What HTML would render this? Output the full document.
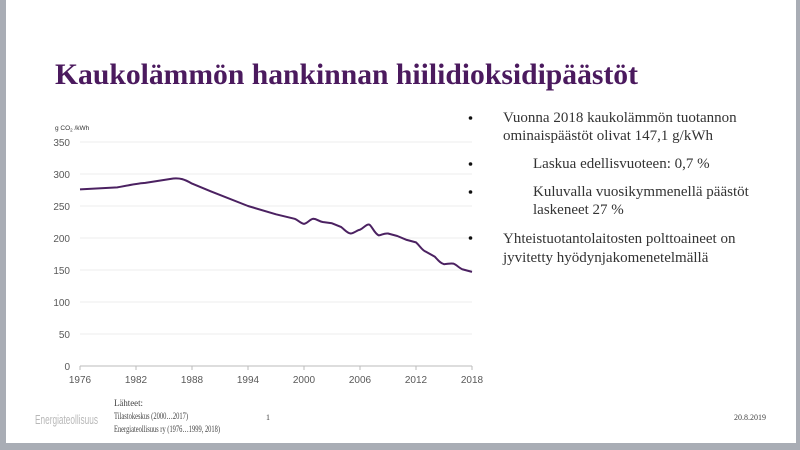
<!DOCTYPE html>
<html><head><meta charset="utf-8"><style>
html,body{margin:0;padding:0;width:800px;height:450px;overflow:hidden;background:#a9adb5}
svg{display:block}
</style></head><body>
<svg width="800" height="450" xmlns="http://www.w3.org/2000/svg">
<rect x="6" y="0" width="790" height="443" fill="#fff"/>
<text x="55" y="84" font-family="Liberation Serif, serif" font-weight="bold" font-size="30" fill="#4b1a5e" textLength="583" lengthAdjust="spacingAndGlyphs">Kaukolämmön hankinnan hiilidioksidipäästöt</text>
<g stroke="#eeeeee" stroke-width="1">
<line x1="80" y1="142" x2="472" y2="142"/>
<line x1="80" y1="174" x2="472" y2="174"/>
<line x1="80" y1="206" x2="472" y2="206"/>
<line x1="80" y1="238" x2="472" y2="238"/>
<line x1="80" y1="270" x2="472" y2="270"/>
<line x1="80" y1="302" x2="472" y2="302"/>
<line x1="80" y1="334" x2="472" y2="334"/>
</g>
<line x1="80" y1="366" x2="472" y2="366" stroke="#bbb"/>
<g stroke="#bbb"><line x1="80" y1="366" x2="80" y2="370"/><line x1="136" y1="366" x2="136" y2="370"/><line x1="192" y1="366" x2="192" y2="370"/><line x1="248" y1="366" x2="248" y2="370"/><line x1="304" y1="366" x2="304" y2="370"/><line x1="360" y1="366" x2="360" y2="370"/><line x1="416" y1="366" x2="416" y2="370"/><line x1="472" y1="366" x2="472" y2="370"/></g>
<g font-family="Liberation Sans, sans-serif" font-size="10" fill="#595959" text-anchor="end">
<text x="70" y="146">350</text><text x="70" y="178">300</text><text x="70" y="210">250</text><text x="70" y="242">200</text><text x="70" y="274">150</text><text x="70" y="306">100</text><text x="70" y="338">50</text><text x="70" y="370">0</text>
</g>
<g font-family="Liberation Sans, sans-serif" font-size="10" fill="#595959" text-anchor="middle">
<text x="80" y="383">1976</text><text x="136" y="383">1982</text><text x="192" y="383">1988</text><text x="248" y="383">1994</text><text x="304" y="383">2000</text><text x="360" y="383">2006</text><text x="416" y="383">2012</text><text x="472" y="383">2018</text>
</g>
<text x="55" y="130" font-family="Liberation Sans, sans-serif" font-size="6.5" fill="#333">g CO<tspan font-size="4.5" dy="1.5">2</tspan><tspan dy="-1.5"> /kWh</tspan></text>
<path fill="none" stroke="#4b2161" stroke-width="2" stroke-linejoin="round" d="M80,189.4 L117.3,187.4 C130,185 140,183 145.3,182.9 L173.3,178.5 C180,178 184,179 192,183.6 L210.7,191.3 L248,206 L276,214.3 L294.7,218.8 C298,220 300,223 304,223.9 C308,223 310,219 313.3,218.8 C317,219 318,221 322.7,222 L332,223.3 L341.3,227.1 C345,230 347,233 350.7,233.5 C355,233 357,230 360,229.7 C364,228 366,224 369.3,224.6 C372,226 374,233 378.7,235.4 C382,235 384,233 388,233.5 L397.3,236 L406.7,239.9 L416,242.4 C420,246 422,250 425.3,251.4 L434.7,256.6 C438,260 440,263 444,264.2 C448,264 450,263 453.3,263.6 C457,265 459,268 462.7,269.4 L472,271.9"/>
<g font-family="Liberation Serif, serif" font-size="15" fill="#333">
<circle cx="470.5" cy="118" r="1.8" fill="#111"/>
<circle cx="470.5" cy="164" r="1.8" fill="#111"/>
<circle cx="470.5" cy="192" r="1.8" fill="#111"/>
<circle cx="470.5" cy="238" r="1.8" fill="#111"/>
<text x="503" y="122">Vuonna 2018 kaukolämmön tuotannon</text>
<text x="503" y="140">ominaispäästöt olivat 147,1 g/kWh</text>
<text x="533" y="168">Laskua edellisvuoteen: 0,7 %</text>
<text x="533" y="196">Kuluvalla vuosikymmenellä päästöt</text>
<text x="533" y="214">laskeneet 27 %</text>
<text x="503" y="243">Yhteistuotantolaitosten polttoaineet on</text>
<text x="503" y="262">jyvitetty hyödynjakomenetelmällä</text>
</g>
<text x="35" y="424" font-family="Liberation Sans, sans-serif" font-size="13" fill="#b8b8b8" textLength="63" lengthAdjust="spacingAndGlyphs">Energiateollisuus</text>
<g font-family="Liberation Serif, serif" font-size="9.5" fill="#444">
<text x="114" y="406" textLength="29" lengthAdjust="spacingAndGlyphs">Lähteet:</text>
<text x="114" y="419" textLength="74" lengthAdjust="spacingAndGlyphs">Tilastokeskus (2000…2017)</text>
<text x="114" y="432" textLength="106" lengthAdjust="spacingAndGlyphs">Energiateollisuus ry (1976…1999, 2018)</text>
<text x="266" y="420" font-size="8">1</text>
<text x="734" y="420" font-size="8" textLength="32" lengthAdjust="spacingAndGlyphs">20.8.2019</text>
</g>
</svg>
</body></html>
